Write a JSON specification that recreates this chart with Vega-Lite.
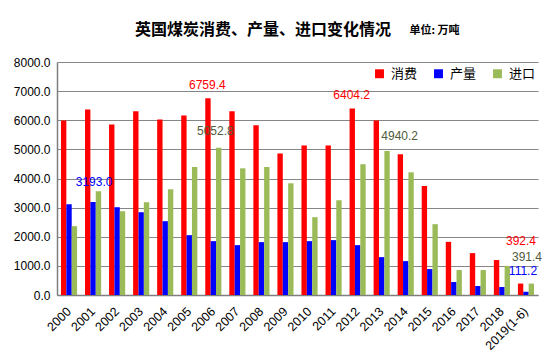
{
  "$schema": "https://vega.github.io/schema/vega-lite/v6.json",
  "autosize": {"type": "none"},
  "width": 481,
  "height": 233,
  "padding": {"left": 57, "top": 62, "right": 16, "bottom": 69},
  "background": "white",
  "config": {
    "font": "Liberation Sans",
    "view": {"stroke": null},
    "axis": {"labelFont": "Liberation Sans"}
  },
  "title": {
    "text": "英国煤炭消费、产量、进口变化情况",
    "font": "Noto Sans CJK SC",
    "fontSize": 16,
    "fontWeight": "bold",
    "color": "#000000",
    "anchor": "start",
    "frame": "group",
    "baseline": "bottom",
    "dx": 78,
    "offset": 0,
    "dy": 30
  },
  "data": {
    "values": [
      {"year": "2000", "series": "消费", "value": 5990},
      {"year": "2001", "series": "消费", "value": 6370},
      {"year": "2002", "series": "消费", "value": 5856},
      {"year": "2003", "series": "消费", "value": 6310},
      {"year": "2004", "series": "消费", "value": 6030},
      {"year": "2005", "series": "消费", "value": 6164},
      {"year": "2006", "series": "消费", "value": 6759.4},
      {"year": "2007", "series": "消费", "value": 6310},
      {"year": "2008", "series": "消费", "value": 5830},
      {"year": "2009", "series": "消费", "value": 4860},
      {"year": "2010", "series": "消费", "value": 5137},
      {"year": "2011", "series": "消费", "value": 5137},
      {"year": "2012", "series": "消费", "value": 6404.2},
      {"year": "2013", "series": "消费", "value": 5990},
      {"year": "2014", "series": "消费", "value": 4830},
      {"year": "2015", "series": "消费", "value": 3743},
      {"year": "2016", "series": "消费", "value": 1825},
      {"year": "2017", "series": "消费", "value": 1438},
      {"year": "2018", "series": "消费", "value": 1200},
      {"year": "2019(1-6)", "series": "消费", "value": 392.4},
      {"year": "2000", "series": "产量", "value": 3116},
      {"year": "2001", "series": "产量", "value": 3193.0},
      {"year": "2002", "series": "产量", "value": 3014},
      {"year": "2003", "series": "产量", "value": 2842},
      {"year": "2004", "series": "产量", "value": 2534},
      {"year": "2005", "series": "产量", "value": 2055},
      {"year": "2006", "series": "产量", "value": 1849},
      {"year": "2007", "series": "产量", "value": 1712},
      {"year": "2008", "series": "产量", "value": 1815},
      {"year": "2009", "series": "产量", "value": 1815},
      {"year": "2010", "series": "产量", "value": 1849},
      {"year": "2011", "series": "产量", "value": 1884},
      {"year": "2012", "series": "产量", "value": 1712},
      {"year": "2013", "series": "产量", "value": 1301},
      {"year": "2014", "series": "产量", "value": 1164},
      {"year": "2015", "series": "产量", "value": 890},
      {"year": "2016", "series": "产量", "value": 445},
      {"year": "2017", "series": "产量", "value": 308},
      {"year": "2018", "series": "产量", "value": 274},
      {"year": "2019(1-6)", "series": "产量", "value": 111.2},
      {"year": "2000", "series": "进口", "value": 2363},
      {"year": "2001", "series": "进口", "value": 3562},
      {"year": "2002", "series": "进口", "value": 2877},
      {"year": "2003", "series": "进口", "value": 3185},
      {"year": "2004", "series": "进口", "value": 3630},
      {"year": "2005", "series": "进口", "value": 4394},
      {"year": "2006", "series": "进口", "value": 5052.8},
      {"year": "2007", "series": "进口", "value": 4349},
      {"year": "2008", "series": "进口", "value": 4394},
      {"year": "2009", "series": "进口", "value": 3836},
      {"year": "2010", "series": "进口", "value": 2671},
      {"year": "2011", "series": "进口", "value": 3253},
      {"year": "2012", "series": "进口", "value": 4486},
      {"year": "2013", "series": "进口", "value": 4940.2},
      {"year": "2014", "series": "进口", "value": 4212},
      {"year": "2015", "series": "进口", "value": 2432},
      {"year": "2016", "series": "进口", "value": 856},
      {"year": "2017", "series": "进口", "value": 856},
      {"year": "2018", "series": "进口", "value": 1000},
      {"year": "2019(1-6)", "series": "进口", "value": 391.4}
    ]
  },
  "encoding": {
    "x": {
      "field": "year",
      "type": "nominal",
      "sort": null,
      "scale": {"paddingInner": 0.33, "paddingOuter": 0.165},
      "axis": {
        "title": null,
        "labelAngle": -45,
        "labelAlign": "right",
        "labelBaseline": "middle",
        "labelFontSize": 12.5,
        "labelColor": "#000000",
        "labelPadding": 14,
        "ticks": false,
        "domainColor": "#7f7f7f",
        "domainWidth": 1.5
      }
    },
    "y": {
      "field": "value",
      "type": "quantitative",
      "scale": {"domain": [0, 8000], "nice": false},
      "axis": {
        "title": "单位: 万吨",
        "titleFont": "Noto Sans CJK SC",
        "titleFontSize": 11,
        "titleFontWeight": "bold",
        "titleColor": "#000000",
        "titleAngle": 0,
        "titleAlign": "left",
        "titleBaseline": "alphabetic",
        "titleX": 352,
        "titleY": -29,
        "values": [0, 1000, 2000, 3000, 4000, 5000, 6000, 7000, 8000],
        "format": ".1f",
        "labelFontSize": 12,
        "labelColor": "#000000",
        "labelPadding": 7,
        "ticks": false,
        "domainColor": "#7f7f7f",
        "domainWidth": 1.5,
        "gridColor": "#868686",
        "gridWidth": 1.2
      }
    }
  },
  "layer": [
    {
      "mark": {"type": "bar"},
      "encoding": {
        "xOffset": {"field": "series", "type": "nominal", "sort": ["消费", "产量", "进口"], "scale": {"paddingInner": 0, "paddingOuter": 0}},
        "color": {
          "field": "series",
          "type": "nominal",
          "sort": ["消费", "产量", "进口"],
          "scale": {"domain": ["消费", "产量", "进口"], "range": ["#FF0000", "#0000FF", "#9BBB59"]},
          "legend": {
            "title": null,
            "orient": "none",
            "legendX": 316,
            "legendY": 5,
            "direction": "horizontal",
            "symbolType": "square",
            "symbolSize": 80,
            "symbolStrokeWidth": 0,
            "labelFont": "Noto Sans CJK SC",
            "labelFontSize": 13,
            "labelColor": "#000000",
            "columnPadding": 14,
            "labelOffset": 5
          }
        }
      }
    },
    {
      "transform": [{"filter": "datum.series == '消费' && (datum.year == '2006' || datum.year == '2012')"}],
      "mark": {"type": "text", "baseline": "bottom", "dy": -6, "dx": -6, "fontSize": 12, "color": "#FF0000"},
      "encoding": {"text": {"field": "value", "type": "quantitative", "format": ".1f"}}
    },
    {
      "transform": [{"filter": "datum.series == '产量' && datum.year == '2001'"}],
      "mark": {"type": "text", "baseline": "bottom", "dy": -13, "dx": 1, "fontSize": 12, "color": "#0000FF"},
      "encoding": {"text": {"field": "value", "type": "quantitative", "format": ".1f"}}
    },
    {
      "transform": [{"filter": "datum.series == '进口' && datum.year == '2006'"}],
      "mark": {"type": "text", "baseline": "bottom", "dy": -10, "dx": 2, "fontSize": 12, "color": "#4F5B3A"},
      "encoding": {"text": {"field": "value", "type": "quantitative", "format": ".1f"}}
    },
    {
      "transform": [{"filter": "datum.series == '进口' && datum.year == '2013'"}],
      "mark": {"type": "text", "baseline": "bottom", "dy": -8, "dx": 18, "fontSize": 12, "color": "#4F5B3A"},
      "encoding": {"text": {"field": "value", "type": "quantitative", "format": ".1f"}}
    },
    {
      "transform": [{"filter": "datum.series == '消费' && datum.year == '2019(1-6)'"}],
      "mark": {"type": "text", "baseline": "middle", "dy": -43, "dx": -5, "fontSize": 12, "color": "#FF0000"},
      "encoding": {"text": {"field": "value", "type": "quantitative", "format": ".1f"}}
    },
    {
      "transform": [{"filter": "datum.series == '进口' && datum.year == '2019(1-6)'"}],
      "mark": {"type": "text", "baseline": "middle", "dy": -27, "dx": 1, "fontSize": 12, "color": "#4F5B3A"},
      "encoding": {"text": {"field": "value", "type": "quantitative", "format": ".1f"}}
    },
    {
      "transform": [{"filter": "datum.series == '产量' && datum.year == '2019(1-6)'"}],
      "mark": {"type": "text", "baseline": "middle", "dy": -21, "dx": -3, "fontSize": 12, "color": "#0000FF"},
      "encoding": {"text": {"field": "value", "type": "quantitative", "format": ".1f"}}
    }
  ]
}
